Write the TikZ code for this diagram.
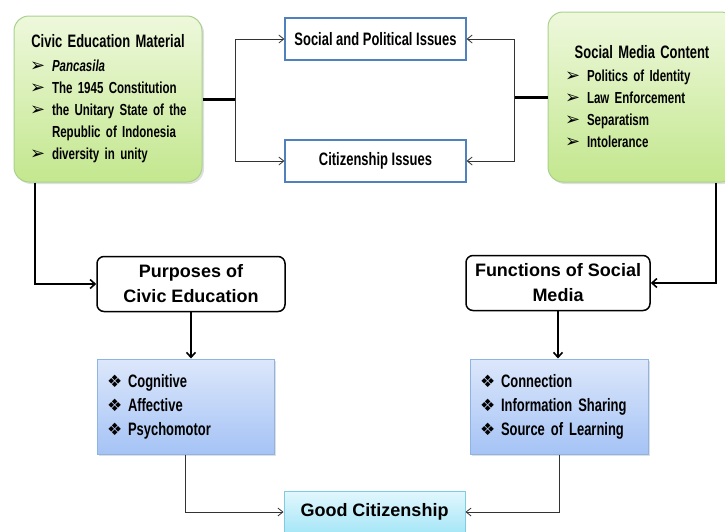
\documentclass[tikz,border=0pt]{standalone}
\usepackage{fontspec}
\setmainfont{Liberation Sans}
\newfontfamily\condfont[FakeStretch=0.72]{Liberation Sans}
\newfontfamily\dingfont{DejaVu Sans}
\usetikzlibrary{shadows,arrows.meta}

\definecolor{greenedge}{HTML}{A9D18E}
\definecolor{greentop}{HTML}{EEF8DC}
\definecolor{greenbot}{HTML}{C3E78E}
\definecolor{blueedge}{HTML}{8EB4E3}
\definecolor{bluetop}{HTML}{DCE7FB}
\definecolor{bluebot}{HTML}{A5C3F5}
\definecolor{cyanedge}{HTML}{7FCBE1}
\definecolor{cyantop}{HTML}{E2F7FD}
\definecolor{cyanbot}{HTML}{A6E6F7}
\definecolor{issueedge}{HTML}{4F81BD}

% bullets
\newcommand{\arr}{\makebox[22pt][l]{\dingfont\fontsize{18}{18}\selectfont ➢}}
\newcommand{\dia}{\makebox[21pt][l]{\dingfont\fontsize{17}{17}\selectfont ❖}}

\begin{document}
\begin{tikzpicture}[x=1pt,y=-1pt,
    greenbox/.style={draw=greenedge,line width=1pt,rounded corners=15pt,
      top color=greentop,bottom color=greenbot,
      drop shadow={opacity=.25,shadow xshift=2pt,shadow yshift=-2pt},
      minimum width=188pt,align=left,
      font=\condfont\bfseries\fontsize{16}{22}\selectfont},
    issuebox/.style={draw=issueedge,line width=1.2pt,fill=white,
      minimum width=181pt,minimum height=42pt,
      font=\condfont\bfseries\fontsize{18}{22}\selectfont},
    headbox/.style={draw=black,line width=1.5pt,rounded corners=7pt,fill=white,
      minimum height=55pt,align=center,
      font=\bfseries\fontsize{18}{25}\selectfont},
    bluebox/.style={draw=blueedge,line width=1pt,
      top color=bluetop,bottom color=bluebot,
      drop shadow={opacity=.25,shadow xshift=2pt,shadow yshift=-2pt},
      minimum height=95pt,inner xsep=10pt,align=left,
      font=\condfont\bfseries\fontsize{18}{24}\selectfont},
    goodbox/.style={draw=cyanedge,line width=1pt,
      top color=cyantop,bottom color=cyanbot,
      minimum width=181pt,minimum height=42pt,
      font=\bfseries\fontsize{18}{22}\selectfont},
    thinarr/.style={draw=black!80,line width=.8pt,-{Straight Barb[length=5pt,width=8pt]}},
    heavy/.style={line width=3pt},
    downarr/.style={line width=1.6pt,-{Straight Barb[length=5pt,width=9pt]}}]
  \useasboundingbox (0,0) rectangle (725,531);

  % top row
  \node[greenbox,minimum height=166pt,inner xsep=16pt,text width=156pt] (civic) at (108,99)
    {\makebox[\linewidth]{\fontsize{18}{22}\selectfont Civic Education Material}\\[2pt]
     \mbox{\arr\textit{Pancasila}}\\
     \mbox{\arr The 1945 Constitution}\\
     \mbox{\arr the Unitary State of the}\\
     \mbox{\hspace*{22pt}Republic of Indonesia}\\
     \mbox{\arr diversity in unity}};
  \node[greenbox,minimum height=170pt,inner xsep=17pt,text width=154pt] (media) at (642,97)
    {\makebox[\linewidth]{\fontsize{18}{22}\selectfont Social Media Content}\\[1pt]
     \arr Politics of Identity\\
     \arr Law Enforcement\\
     \arr Separatism\\
     \arr Intolerance};
  \node[issuebox] (social) at (375.5,39) {Social and Political Issues};
  \node[issuebox] (citizen) at (375.5,161) {Citizenship Issues};

  \coordinate (lj) at (235,99);
  \coordinate (rj) at (514,97);
  \draw[heavy] (civic.east) -- (lj);
  \draw[heavy] (media.west) -- (rj);
  \draw[thinarr] (lj) |- (social);
  \draw[thinarr] (lj) |- (citizen);
  \draw[thinarr] (rj) |- (social);
  \draw[thinarr] (rj) |- (citizen);

  % middle row
  \node[headbox,minimum width=188pt] (purpose) at (191,284) {Purposes of\\Civic Education};
  \node[headbox,minimum width=184pt] (function) at (558,283) {Functions of Social\\Media};
  \draw[downarr] ([xshift=-73pt]civic.south) |- (purpose);
  \draw[downarr] ([xshift=74pt]media.south) |- (function);

  \node[bluebox,minimum width=177pt,text width=157pt] (cogn) at (185.5,406.5)
    {\dia Cognitive\\ \dia Affective\\ \dia Psychomotor};
  \node[bluebox,minimum width=178pt,text width=158pt] (conn) at (559,406.5)
    {\dia Connection\\ \dia Information Sharing\\ \dia Source of Learning};
  \draw[downarr] (purpose.south) -- (purpose.south |- cogn.north);
  \draw[downarr] (function.south) -- (function.south |- conn.north);

  % bottom
  \node[goodbox] (good) at (374.5,512) {Good Citizenship};
  \draw[thinarr] (cogn.south) |- (good);
  \draw[thinarr] (conn.south) |- (good);
\end{tikzpicture}
\end{document}
